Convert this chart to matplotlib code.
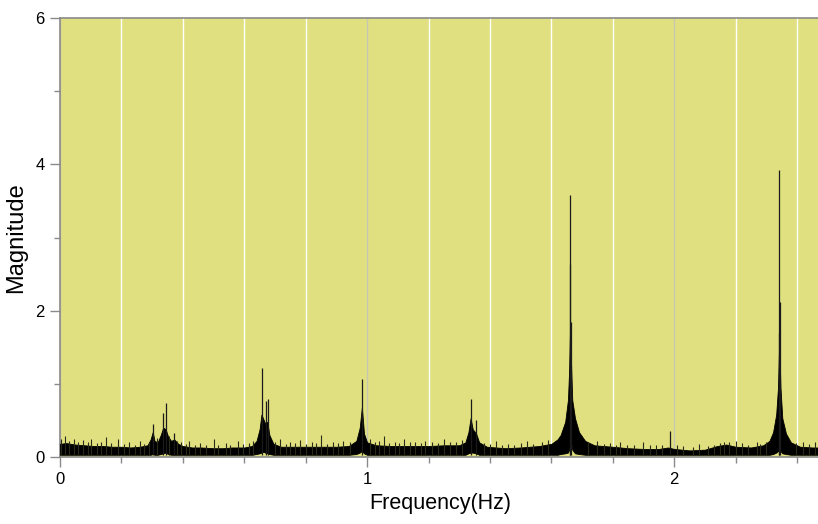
import matplotlib
matplotlib.use("Agg")
import matplotlib.pyplot as plt
from matplotlib.ticker import MultipleLocator

plt.rcParams['font.family'] = ['Liberation Sans', 'DejaVu Sans']

# noise floor + peak envelope (Hz, magnitude)
env_freq = [0.000, 0.020, 0.050, 0.080, 0.110, 0.140, 0.170, 0.200, 0.230, 0.260,
            0.285, 0.295, 0.302, 0.308, 0.318, 0.328, 0.336, 0.344, 0.352, 0.362,
            0.372, 0.385, 0.400, 0.430, 0.460, 0.500, 0.530, 0.560, 0.600, 0.625,
            0.640, 0.650, 0.656, 0.662, 0.668, 0.675, 0.682, 0.695, 0.720, 0.760,
            0.800, 0.850, 0.900, 0.940, 0.965, 0.976, 0.983, 0.990, 1.000, 1.030,
            1.080, 1.150, 1.200, 1.250, 1.300, 1.320, 1.330, 1.337, 1.344, 1.355,
            1.365, 1.390, 1.450, 1.500, 1.560, 1.600, 1.620, 1.630, 1.645, 1.654,
            1.658, 1.661, 1.664, 1.668, 1.677, 1.690, 1.710, 1.740, 1.800, 1.850,
            1.900, 1.950, 1.980, 2.000, 2.050, 2.100, 2.140, 2.170, 2.200, 2.250,
            2.290, 2.310, 2.322, 2.332, 2.338, 2.342, 2.346, 2.352, 2.364, 2.380,
            2.410, 2.450, 2.480]
env_high = [0.18, 0.19, 0.17, 0.16, 0.15, 0.15, 0.14, 0.14, 0.13, 0.14,
            0.16, 0.24, 0.34, 0.22, 0.20, 0.30, 0.40, 0.38, 0.28, 0.22,
            0.24, 0.18, 0.15, 0.13, 0.13, 0.12, 0.12, 0.13, 0.13, 0.15,
            0.22, 0.38, 0.58, 0.52, 0.46, 0.48, 0.30, 0.18, 0.14, 0.14,
            0.14, 0.14, 0.14, 0.15, 0.22, 0.40, 0.68, 0.32, 0.20, 0.16,
            0.15, 0.15, 0.15, 0.16, 0.16, 0.20, 0.34, 0.53, 0.38, 0.32,
            0.20, 0.14, 0.12, 0.13, 0.15, 0.18, 0.24, 0.30, 0.48, 0.78,
            1.20, 1.80, 1.30, 0.78, 0.53, 0.34, 0.22, 0.16, 0.14, 0.12,
            0.11, 0.11, 0.13, 0.11, 0.09, 0.10, 0.15, 0.17, 0.14, 0.13,
            0.16, 0.22, 0.34, 0.58, 0.95, 1.60, 0.95, 0.53, 0.32, 0.20,
            0.14, 0.13, 0.13]
env_low = [0.03, 0.03, 0.03, 0.03, 0.03, 0.03, 0.03, 0.03, 0.03, 0.03,
           0.03, 0.03, 0.04, 0.03, 0.03, 0.04, 0.05, 0.06, 0.04, 0.03,
           0.03, 0.03, 0.03, 0.03, 0.03, 0.03, 0.03, 0.03, 0.03, 0.03,
           0.04, 0.05, 0.06, 0.07, 0.06, 0.05, 0.04, 0.03, 0.03, 0.03,
           0.03, 0.03, 0.03, 0.03, 0.04, 0.06, 0.08, 0.05, 0.03, 0.03,
           0.03, 0.03, 0.03, 0.03, 0.03, 0.03, 0.05, 0.06, 0.06, 0.05,
           0.03, 0.03, 0.03, 0.03, 0.03, 0.03, 0.03, 0.04, 0.05, 0.06,
           0.10, 0.20, 0.22, 0.10, 0.05, 0.04, 0.03, 0.03, 0.03, 0.03,
           0.03, 0.03, 0.03, 0.03, 0.03, 0.03, 0.03, 0.03, 0.03, 0.03,
           0.03, 0.03, 0.04, 0.06, 0.08, 0.12, 0.08, 0.05, 0.04, 0.03,
           0.03, 0.03, 0.03]

# tall narrow spikes at the peaks
peak_freq = [0.303, 0.335, 0.344, 0.370, 0.659, 0.670, 0.677, 0.983, 1.338, 1.356,
             1.662, 1.660, 1.664, 1.986, 2.342, 2.343, 2.341]
peak_mag = [0.45, 0.60, 0.74, 0.33, 1.22, 0.76, 0.79, 1.07, 0.79, 0.50,
            3.58, 2.64, 1.85, 0.35, 3.92, 2.12, 1.70]

# ragged top of the noise floor
noise_freq = [0.005, 0.016, 0.030, 0.045, 0.060, 0.075, 0.090, 0.100, 0.120, 0.135,
              0.150, 0.165, 0.190, 0.210, 0.225, 0.245, 0.260, 0.275, 0.290, 0.315,
              0.355, 0.380, 0.395, 0.410, 0.420, 0.440, 0.455, 0.475, 0.500, 0.515,
              0.540, 0.555, 0.580, 0.595, 0.615, 0.630, 0.700, 0.715, 0.735, 0.750,
              0.765, 0.780, 0.800, 0.820, 0.835, 0.850, 0.870, 0.890, 0.905, 0.920,
              0.945, 1.010, 1.025, 1.040, 1.055, 1.070, 1.090, 1.105, 1.120, 1.140,
              1.155, 1.175, 1.190, 1.210, 1.230, 1.250, 1.270, 1.290, 1.310, 1.380,
              1.400, 1.420, 1.440, 1.460, 1.480, 1.500, 1.520, 1.540, 1.570, 1.590,
              1.720, 1.750, 1.770, 1.790, 1.810, 1.825, 1.845, 1.870, 1.900, 1.920,
              1.940, 1.960, 2.010, 2.030, 2.060, 2.080, 2.110, 2.130, 2.150, 2.162,
              2.180, 2.200, 2.220, 2.240, 2.270, 2.280, 2.300, 2.395, 2.420, 2.440,
              2.460, 2.475]
noise_mag = [0.24, 0.28, 0.22, 0.25, 0.21, 0.23, 0.20, 0.25, 0.19, 0.21,
             0.27, 0.19, 0.24, 0.18, 0.20, 0.17, 0.22, 0.18, 0.20, 0.26,
             0.28, 0.22, 0.20, 0.18, 0.22, 0.17, 0.19, 0.17, 0.25, 0.17,
             0.19, 0.17, 0.22, 0.18, 0.19, 0.22, 0.21, 0.25, 0.18, 0.20,
             0.19, 0.23, 0.18, 0.20, 0.19, 0.30, 0.18, 0.20, 0.19, 0.22,
             0.20, 0.24, 0.20, 0.22, 0.28, 0.19, 0.21, 0.19, 0.24, 0.20,
             0.21, 0.19, 0.22, 0.20, 0.19, 0.24, 0.21, 0.20, 0.23, 0.19,
             0.18, 0.22, 0.17, 0.18, 0.17, 0.19, 0.22, 0.18, 0.21, 0.23,
             0.20, 0.22, 0.18, 0.19, 0.17, 0.21, 0.17, 0.16, 0.20, 0.16,
             0.17, 0.16, 0.16, 0.15, 0.14, 0.18, 0.15, 0.17, 0.19, 0.21,
             0.20, 0.22, 0.19, 0.17, 0.20, 0.18, 0.20, 0.19, 0.21, 0.18,
             0.20, 0.18]

bg = '#e0e080'
edge = '#8a8a8a'

fig = plt.figure(figsize=(8.18, 5.24), dpi=100)
ax = fig.add_axes([0.0733, 0.1279, 0.93, 0.8377])
ax.set_facecolor(bg)

ax.set_xlim(0, 2.477)
ax.set_ylim(0, 6)

ax.xaxis.set_major_locator(MultipleLocator(1))
ax.xaxis.set_minor_locator(MultipleLocator(0.2))
ax.yaxis.set_major_locator(MultipleLocator(2))
ax.yaxis.set_minor_locator(MultipleLocator(1))

ax.grid(True, which='minor', axis='x', color='white', lw=1.0)
ax.grid(True, which='major', axis='x', color='#c8c8b0', lw=1.0)
ax.set_axisbelow(True)

ax.fill_between(env_freq, env_low, env_high, color='black', lw=0.6, zorder=3)
ax.vlines(noise_freq, 0.03, noise_mag, color='#2a2a18', lw=0.8, zorder=4)
ax.vlines(peak_freq, 0.03, peak_mag, color='#1a1a1a', lw=0.9, zorder=4)

for s in ['left', 'bottom', 'top']:
    ax.spines[s].set_color(edge)
    ax.spines[s].set_linewidth(1.2)
ax.spines['right'].set_visible(False)

ax.tick_params(which='major', length=7, width=1, color=edge, labelsize=12, pad=4)
ax.tick_params(which='minor', length=4, width=1, color=edge)

ax.set_xlabel('Frequency(Hz)', fontsize=15.5, labelpad=4)
ax.set_ylabel('Magnitude', fontsize=17, labelpad=6)

fig.savefig('out.png', dpi=100, facecolor='white')
